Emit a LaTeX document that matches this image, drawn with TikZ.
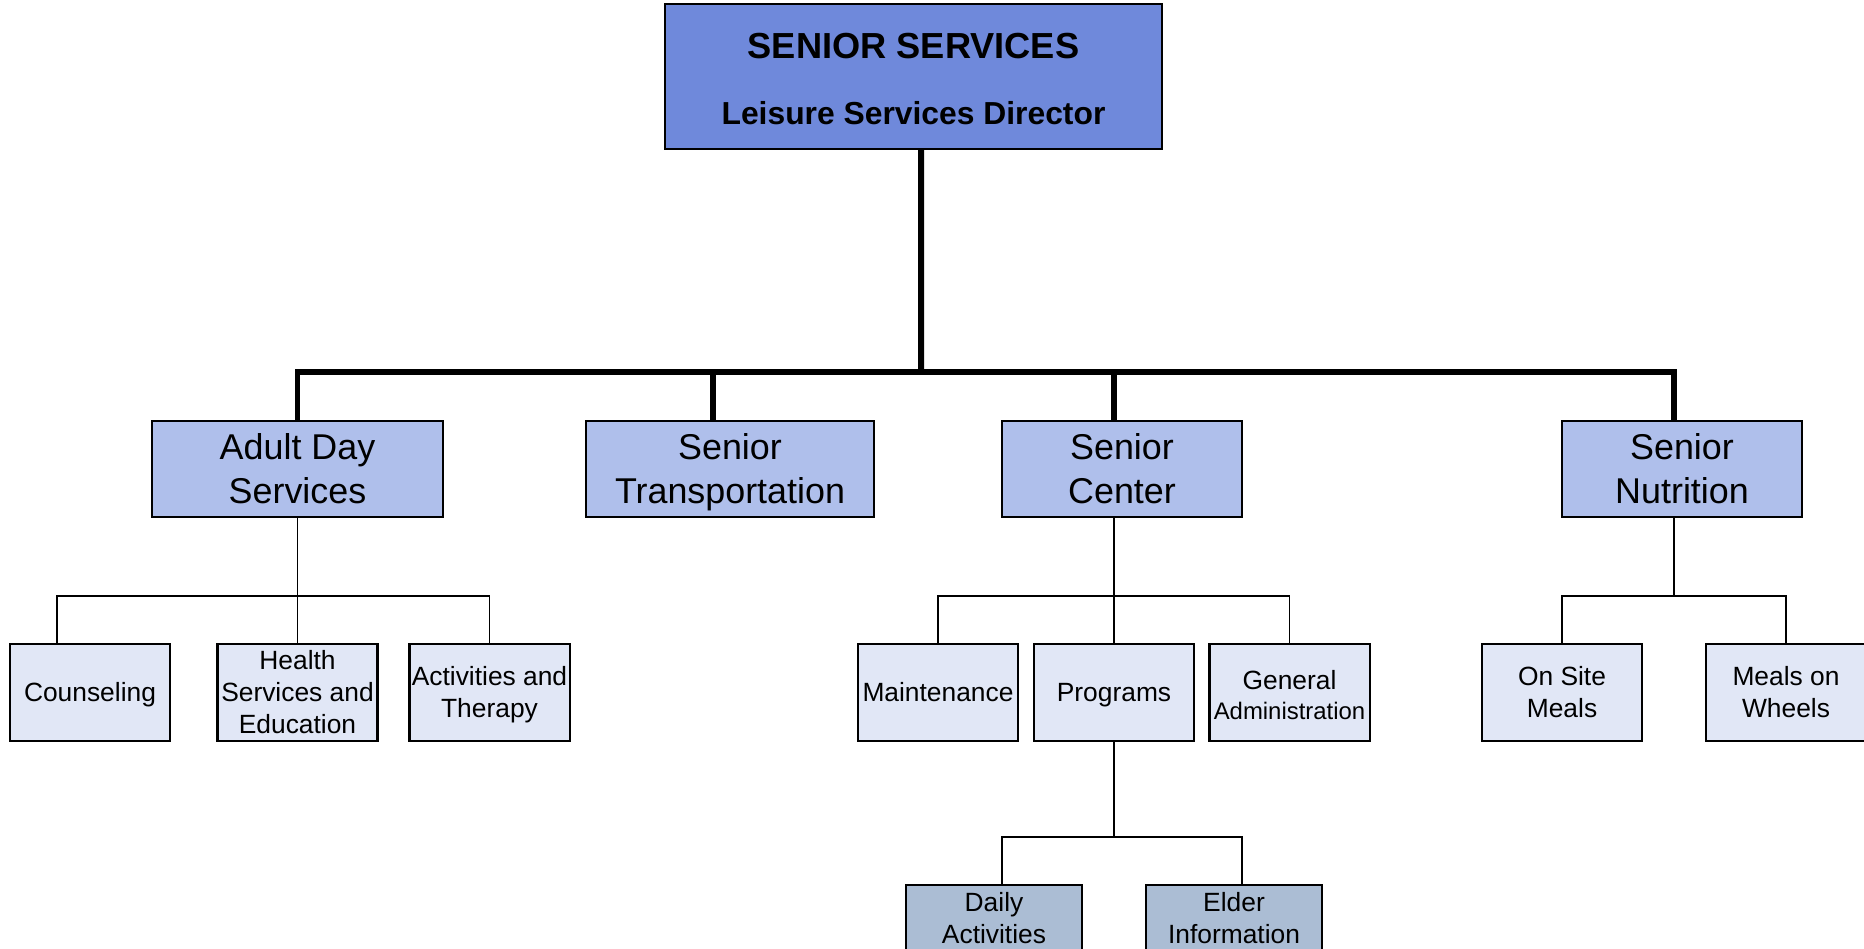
\documentclass[tikz,border=0pt]{standalone}
\usepackage{fontspec}
\setmainfont{Liberation Sans}
\definecolor{topfill}{RGB}{111,137,219}
\definecolor{midfill}{RGB}{175,191,235}
\definecolor{lowfill}{RGB}{225,231,246}
\definecolor{botfill}{RGB}{171,189,212}

\begin{document}
\begin{tikzpicture}[x=0.01cm, y=-0.01cm,
  box/.style={draw, line width=0.6pt, align=center, inner sep=0pt},
  unitbox/.style={box, fill=midfill, minimum width=2.9cm, minimum height=0.96cm, font=\fontsize{10.2}{12.5}\selectfont},
  subbox/.style={box, fill=lowfill, minimum width=1.6cm, minimum height=0.97cm, font=\fontsize{7.5}{9.1}\selectfont},
  progbox/.style={box, fill=botfill, minimum width=1.76cm, minimum height=0.67cm, font=\fontsize{7.5}{9.1}\selectfont},
  bus/.style={line width=1.7pt},
  link/.style={line width=0.45pt}]
\useasboundingbox (0,0) rectangle (1864,949);

% director
\node[box, fill=topfill, minimum width=4.97cm, minimum height=1.45cm] (dir) at (913.5,76.5) {};
\node[font=\fontsize{10.3}{12}\selectfont\bfseries] (dirTitle) at (913.5,46) {SENIOR SERVICES};
\node[font=\fontsize{9.05}{11}\selectfont\bfseries] (dirSub) at (913.5,113) {Leisure Services Director};

% units
\node[unitbox] (adult) at (297.5,469) {Adult Day\\Services};
\node[unitbox, minimum width=2.88cm] (trans) at (730,469) {Senior\\Trans\smash{p}ortation};
\node[unitbox, minimum width=2.4cm] (center) at (1122,469) {Senior\\Center};
\node[unitbox, minimum width=2.4cm] (nutr) at (1682,469) {Senior\\Nutrition};

% sections
\node[subbox] (couns) at (90,692.5) {Counselin\smash{g}};
\node[subbox] (health) at (297.5,692.5) {Health\\Services and\\Education};
\node[subbox] (activ) at (489.5,692.5) {Activities and\\The\smash{rapy}};
\node[subbox] (maint) at (938,692.5) {Maintenance};
\node[subbox] (prog) at (1114,692.5) {Pro\smash{g}rams};
\node[subbox] (admin) at (1289.5,692.5) {\rule{0pt}{6.8pt}General\\[-0.7pt]{\fontsize{6.8}{8}\selectfont Administration}};
\node[subbox] (onsite) at (1562,692.5) {On Site\\Meals};
\node[subbox] (wheels) at (1786,692.5) {Meals on\\Wheels};

% programs
\node[progbox] (daily) at (994,918.5) {Daily\\Activities};
\node[progbox] (elder) at (1234,918.5) {Elder\\Information};

% main bus
\coordinate (hub) at (921,372);
\draw[bus] ([xshift=0.075cm]dir.south) -- (hub);
\draw[bus] (adult.north) |- (hub) -| ([xshift=-0.08cm]nutr.north);
\draw[bus] ([xshift=-0.17cm]trans.north) -- ++(0,-49);
\draw[bus] ([xshift=-0.08cm]center.north) -- ++(0,-49);

% adult day
\coordinate (jA) at (297.5,596);
\draw[link] (adult.south) -- (jA);
\draw[link] ([xshift=-0.33cm]couns.north) |- (jA) -| (activ.north);
\draw[link] (health.north) -- (jA);

% senior center
\coordinate (jC) at (1114,596);
\draw[link] ([xshift=-0.08cm]center.south) -- (jC);
\draw[link] (maint.north) |- (jC) -| (admin.north);
\draw[link] (prog.north) -- (jC);

% nutrition
\coordinate (jN) at (1674,596);
\draw[link] ([xshift=-0.08cm]nutr.south) -- (jN);
\draw[link] (onsite.north) |- (jN) -| (wheels.north);

% programs
\coordinate (jP) at (1114,837);
\draw[link] (prog.south) -- (jP);
\draw[link] ([xshift=0.08cm]daily.north) |- (jP) -| ([xshift=0.08cm]elder.north);
\end{tikzpicture}
\end{document}
